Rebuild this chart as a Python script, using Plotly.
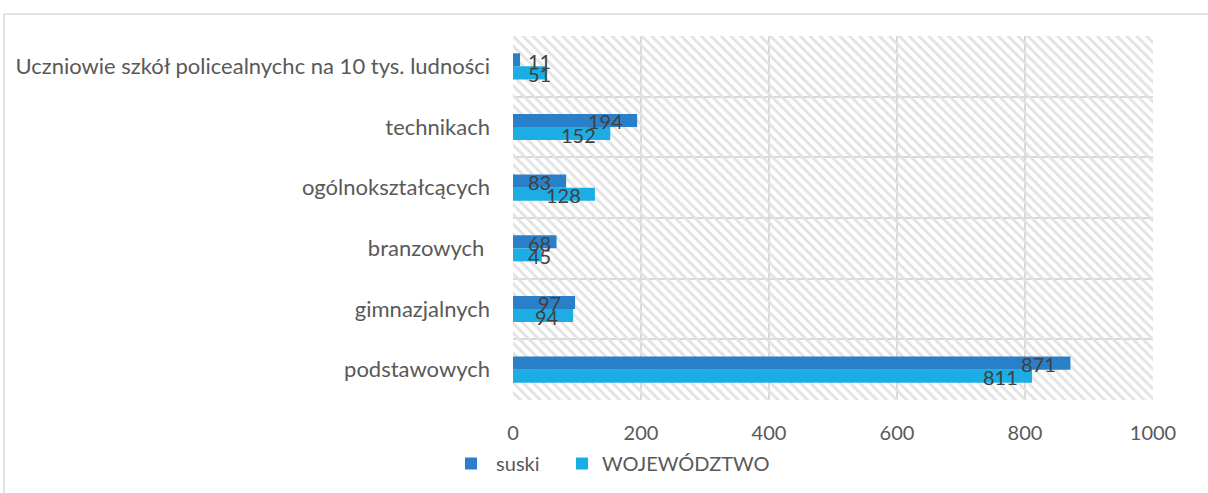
import plotly.graph_objects as go

categories = ["podstawowych", "gimnazjalnych", "branzowych ", "ogólnokształcących", "technikach",
              "Uczniowie szkół policealnychc na 10 tys. ludności"]
suski = [871, 97, 68, 83, 194, 11]
wojewodztwo = [811, 94, 45, 128, 152, 51]
series_names = [" suski", "WOJEWÓDZTWO"]
x_ticks = [0, 200, 400, 600, 800, 1000]

C_SUSKI = "#2A80C8"
C_WOJ = "#1CADE4"
GRID = "#D9D9D9"
FONT = "Lato"

W, H = 1208, 493
ML, MR, MT, MB = 513, 55, 36, 93
PW, PH = W - ML - MR, H - MT - MB
XMAX = 1000
BARW = 0.215

pos = list(range(len(categories)))

fig = go.Figure()

# hatched plot-area background (drawn first, beneath the bars)
fig.add_trace(go.Bar(
    y=pos, x=[XMAX] * len(pos), orientation="h", width=1, offset=-0.5,
    marker=dict(color="rgba(0,0,0,0)", line=dict(width=0),
                pattern=dict(shape="\\", fgcolor="#E2E2E2", size=7, solidity=0.4, fillmode="replace")),
    hoverinfo="skip", showlegend=False))

fig.add_trace(go.Bar(y=pos, x=suski, orientation="h", name=series_names[0], legend="legend",
                     marker=dict(color=C_SUSKI, line=dict(width=0)), width=BARW, offset=0))
fig.add_trace(go.Bar(y=pos, x=wojewodztwo, orientation="h", name=series_names[1], legend="legend2",
                     marker=dict(color=C_WOJ, line=dict(width=0)), width=BARW, offset=-BARW))

# data labels ("inside end", Excel style)
px_per_unit = PW / XMAX
digit_w = 11.7
annotations = []
for vals, off in ((suski, BARW / 2), (wojewodztwo, -BARW / 2)):
    for i, v in enumerate(vals):
        tw = digit_w * len(str(v))
        if v * px_per_unit - 17 - tw < 16:
            annotations.append(dict(x=0, y=i + off, text=str(v), xanchor="left", xshift=13,
                                    showarrow=False, font=dict(family=FONT, size=20, color="#404040"),
                                    yshift=-1))
        else:
            annotations.append(dict(x=v, y=i + off, text=str(v), xanchor="right", xshift=-12,
                                    showarrow=False, font=dict(family=FONT, size=20, color="#404040"),
                                    yshift=-1))

shapes = [
    # chart area border (top and left)
    dict(type="line", xref="paper", yref="paper", x0=(4 - ML) / PW, x1=(W + 5 - ML) / PW,
         y0=1 + (MT - 14) / PH, y1=1 + (MT - 14) / PH, line=dict(color=GRID, width=1.5)),
    dict(type="line", xref="paper", yref="paper", x0=(4 - ML) / PW, x1=(4 - ML) / PW,
         y0=1 + (MT - 14) / PH, y1=-(H + 5 - PH - MT) / PH, line=dict(color=GRID, width=1.5)),
]

legend_common = dict(orientation="h", xref="container", yref="container", xanchor="left",
                     yanchor="top", y=1 - 444 / H, font=dict(size=20, color="#595959"),
                     bgcolor="rgba(0,0,0,0)")

fig.update_layout(
    width=W, height=H,
    margin=dict(l=ML, r=MR, t=MT, b=MB, autoexpand=False),
    paper_bgcolor="white", plot_bgcolor="white",
    barmode="overlay",
    font=dict(family=FONT, size=20, color="#595959"),
    xaxis=dict(range=[0, XMAX], tickvals=x_ticks, showgrid=True, gridcolor=GRID, gridwidth=1.5,
               zeroline=False, showline=False, ticks="", ticklabelstandoff=19,
               tickfont=dict(size=20, color="#595959"), fixedrange=True),
    yaxis=dict(range=[-0.5, len(categories) - 0.5], tickvals=pos, ticktext=categories,
               showgrid=False, zeroline=False, showline=False, ticks="", ticklabelstandoff=22,
               tickfont=dict(size=22, color="#595959"), fixedrange=True,
               minor=dict(tickvals=[p - 0.5 for p in pos] + [len(categories) - 0.5],
                          showgrid=True, gridcolor=GRID, gridwidth=1.5, ticks="")),
    legend=dict(x=451 / W, **legend_common),
    legend2=dict(x=562 / W, **legend_common),
    annotations=annotations,
    shapes=shapes,
    showlegend=True,
)

fig.write_html("out.html", config={"displayModeBar": False},
               post_script="document.body.style.margin='0';")
